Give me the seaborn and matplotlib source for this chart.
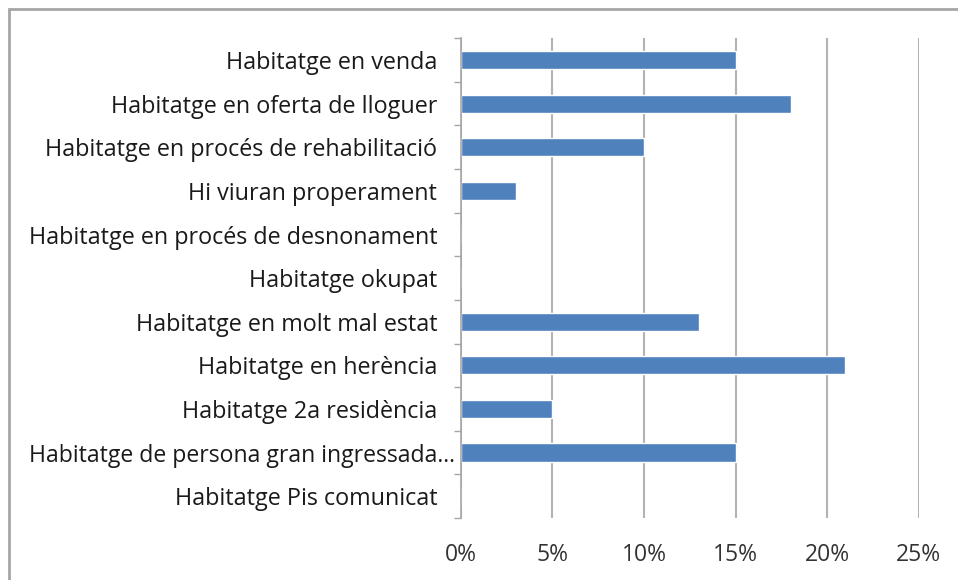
import matplotlib.pyplot as plt
import matplotlib.patches as mpatches
from matplotlib.ticker import FixedLocator, PercentFormatter
import seaborn as sns
import pandas as pd

categories = [
    'Habitatge en venda',
    'Habitatge en oferta de lloguer',
    'Habitatge en procés de rehabilitació',
    'Hi viuran properament',
    'Habitatge en procés de desnonament',
    'Habitatge okupat',
    'Habitatge en molt mal estat',
    'Habitatge en herència',
    'Habitatge 2a residència',
    'Habitatge de persona gran ingressada...',
    'Habitatge Pis comunicat',
]
values = [15, 18, 10, 3, 0, 0, 13, 21, 5, 15, 0]
xticks = [0, 5, 10, 15, 20, 25]

df = pd.DataFrame({'cat': categories, 'val': values})

sns.set_style('white')
plt.rcParams['font.family'] = ['Open Sans', 'DejaVu Sans']

fig = plt.figure(figsize=(9.58, 5.8), dpi=100)
ax = fig.add_axes([0.481, 0.107, 0.478, 0.827])

sns.barplot(data=df, x='val', y='cat', orient='h', color='#4F81BD',
            saturation=1, width=0.42, ax=ax)

ax.set_xlim(0, 25)
ax.set_ylim(10.5, -0.5)
ax.set_xticks(xticks)
ax.xaxis.set_major_formatter(PercentFormatter(decimals=0))
ax.grid(axis='x', color='#b3b3b3', linewidth=1.5)
ax.set_axisbelow(True)
ax.set_xlabel('')
ax.set_ylabel('')

for s in ['top', 'right', 'bottom']:
    ax.spines[s].set_visible(False)
ax.spines['left'].set_color('#a6a6a6')
ax.spines['left'].set_linewidth(1.2)

ax.tick_params(axis='y', which='major', length=0, pad=17, labelsize=16.8, labelcolor='#1a1a1a')
ax.tick_params(axis='x', which='major', length=0, pad=18, labelsize=16.5, labelcolor='#333333')
ax.yaxis.set_minor_locator(FixedLocator([i - 0.5 for i in range(len(categories) + 1)]))
ax.tick_params(axis='y', which='minor', length=5, width=1, color='#a6a6a6', left=True)

# the truncated label sits closer to the axis, like in the original
ax.yaxis.get_major_ticks()[9].set_pad(4)
ax.get_yticklabels()[9].set_fontsize(16.6)

# outer frame of the chart area
fig.patches.append(mpatches.Rectangle((9 / 958, -0.05), 1.1, 1.05 - 9 / 580,
                                      transform=fig.transFigure, fill=False,
                                      edgecolor='#a6a6a6', linewidth=2))

fig.savefig('out.png', dpi=100)
